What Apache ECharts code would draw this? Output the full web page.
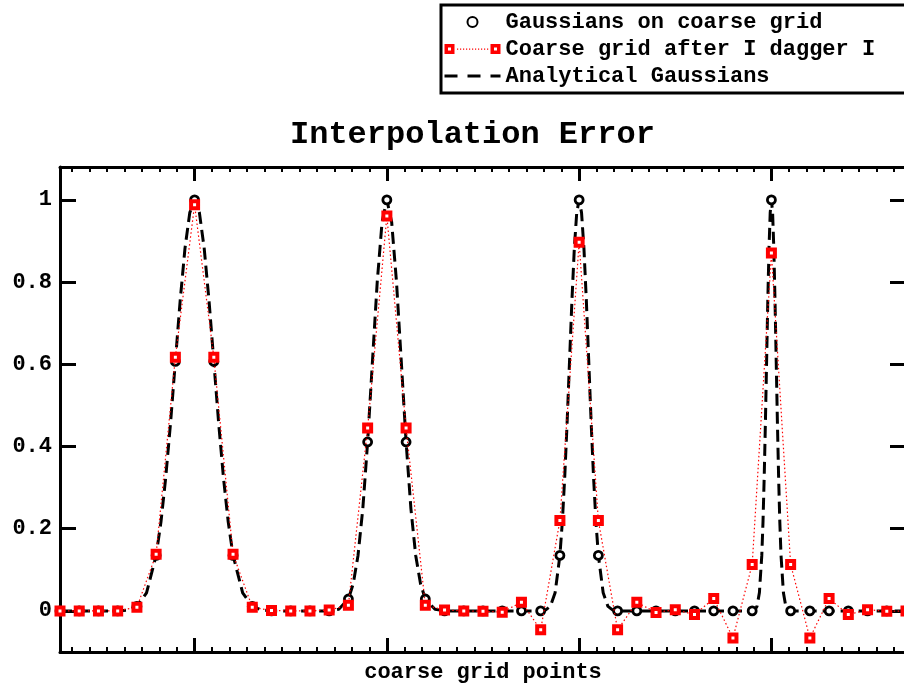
<!DOCTYPE html>
<html>
<head>
<meta charset="utf-8">
<script src="https://cdn.jsdelivr.net/npm/echarts@6/dist/echarts.min.js"></script>
<style>
html,body{margin:0;padding:0;background:#fff;}
#chart{width:904px;height:684px;}
</style>
</head>
<body>
<div id="chart"></div>
<script>
// coarse grid values (index 0..44)
const gaussCoarse = [0,0,0,0,0.011,0.135,0.607,1,0.607,0.135,0.011,0,0,0,
  0,0.029,0.411,1,0.411,0.029,0,0,0,0,0,0,
  0.135,1,0.135,0,0,0,0,0,0,0,0,1,0,0,0,0,0,0,0];
const afterIdaggerI = [0,0,0,0,0.009,0.138,0.617,0.988,0.617,0.138,0.009,0.001,0,0,
  0.002,0.014,0.445,0.961,0.445,0.014,0.002,0,-0.001,-0.003,0.021,-0.046,
  0.22,0.897,0.22,-0.046,0.021,-0.004,0.003,-0.009,0.03,-0.066,0.113,0.871,0.113,-0.066,0.03,-0.009,0.003,-0.001,0];
// analytical curve samples [x, y]
const analyticCurve = [[0,0],[3,0],[3.5,0.002],[4,0.011],[4.5,0.044],[5,0.135],[5.25,0.216],[5.5,0.325],[5.75,0.458],[6,0.607],[6.25,0.755],[6.5,0.882],[6.75,0.969],[7,1],[7.25,0.969],[7.5,0.882],[7.75,0.755],[8,0.607],[8.25,0.458],[8.5,0.325],[8.75,0.216],[9,0.135],[9.5,0.044],[10,0.011],[10.5,0.002],[11,0],
  [14,0],[14.5,0.004],[15,0.029],[15.25,0.066],[15.5,0.135],[15.75,0.249],[16,0.411],[16.25,0.607],[16.5,0.801],[16.75,0.946],[17,1],[17.25,0.946],[17.5,0.801],[17.75,0.607],[18,0.411],[18.25,0.249],[18.5,0.135],[18.75,0.066],[19,0.029],[19.5,0.004],[20,0],
  [25,0],[25.25,0.002],[25.5,0.011],[25.75,0.044],[26,0.135],[26.125,0.216],[26.25,0.325],[26.375,0.458],[26.5,0.607],[26.625,0.755],[26.75,0.882],[26.875,0.969],[27,1],[27.125,0.969],[27.25,0.882],[27.375,0.755],[27.5,0.607],[27.625,0.458],[27.75,0.325],[27.875,0.216],[28,0.135],[28.25,0.044],[28.5,0.011],[28.75,0.002],[29,0],
  [36,0],[36.125,0.002],[36.25,0.011],[36.375,0.044],[36.5,0.135],[36.5625,0.216],[36.625,0.325],[36.6875,0.458],[36.75,0.607],[36.8125,0.755],[36.875,0.882],[36.9375,0.969],[37,1],[37.0625,0.969],[37.125,0.882],[37.1875,0.755],[37.25,0.607],[37.3125,0.458],[37.375,0.325],[37.4375,0.216],[37.5,0.135],[37.625,0.044],[37.75,0.011],[37.875,0.002],[38,0],[44,0]];
const seriesNames = ['Gaussians on coarse grid','Coarse grid after I dagger I','Analytical Gaussians'];
const titleText = 'Interpolation Error';
const xAxisName = 'coarse grid points';

const FONT = '"Liberation Mono", "Courier New", monospace';
const chart = echarts.init(document.getElementById('chart'), null, {renderer:'canvas'});

// legend icon: two hollow squares joined by dots (56 x 10 box)
let redIcon = 'path://M0,0H10V10H0Z M3.5,3.5V6.5H6.5V3.5Z M46,0H56V10H46Z M49.5,3.5V6.5H52.5V3.5Z';
for (let x = 12.5; x < 44; x += 3) {
  redIcon += ' M' + x + ',4.5H' + (x + 1.2) + 'V5.7H' + x + 'Z';
}

const axisBase = {
  axisLine:{show:true, onZero:false, lineStyle:{color:'#000', width:3}},
  splitLine:{show:false}
};
const option = {
  animation:false,
  backgroundColor:'#fff',
  title:{text:titleText, left:290, top:119, padding:0,
    textStyle:{fontFamily:FONT, fontWeight:'bold', fontSize:32, color:'#000'}},
  legend:{
    orient:'vertical', left:441, top:5, padding:[6,40,6,2],
    borderColor:'#000', borderWidth:3, backgroundColor:'#fff',
    itemWidth:56, itemHeight:10, itemGap:5,
    textStyle:{fontFamily:FONT, fontWeight:'bold', fontSize:22, color:'#000', lineHeight:22},
    data:[
      {name:seriesNames[0]},
      {name:seriesNames[1], icon:redIcon, itemStyle:{color:'#ff0000', borderWidth:0}},
      {name:seriesNames[2], itemStyle:{opacity:0}, lineStyle:{type:[13,10], width:3, color:'#000'}}
    ]
  },
  grid:{left:60, top:167, width:846, height:485, outerBoundsMode:'none', containLabel:false},
  xAxis:[
    {type:'value', min:0, max:44, show:false, position:'bottom'},
    Object.assign({}, axisBase, {type:'value', position:'bottom', min:3, max:47, splitNumber:4, minInterval:10, maxInterval:10,
      axisTick:{show:true, inside:true, length:14, lineStyle:{color:'#000', width:3}},
      minorTick:{show:true, splitNumber:11, length:5, lineStyle:{color:'#000', width:2}},
      axisLabel:{show:false},
      name:xAxisName, nameLocation:'middle', nameGap:9,
      nameTextStyle:{fontFamily:FONT, fontWeight:'bold', fontSize:22, color:'#000', verticalAlign:'top'}}),
    Object.assign({}, axisBase, {type:'value', position:'top', min:3, max:47, splitNumber:4, minInterval:10, maxInterval:10,
      axisTick:{show:true, inside:true, length:14, lineStyle:{color:'#000', width:3}},
      minorTick:{show:true, splitNumber:11, length:5, lineStyle:{color:'#000', width:2}},
      axisLabel:{show:false}})
  ],
  yAxis:[
    Object.assign({}, axisBase, {type:'value', position:'left', min:-0.1, max:1.08, splitNumber:6, minInterval:0.2, maxInterval:0.2,
      axisTick:{show:true, inside:true, length:16, lineStyle:{color:'#000', width:3}},
      axisLabel:{show:true, showMinLabel:false, showMaxLabel:false, margin:8,
        fontFamily:FONT, fontWeight:'bold', fontSize:22, color:'#000'}}),
    Object.assign({}, axisBase, {type:'value', position:'right', min:-0.1, max:1.08, splitNumber:6, minInterval:0.2, maxInterval:0.2,
      axisTick:{show:true, inside:true, length:16, lineStyle:{color:'#000', width:3}},
      axisLabel:{show:false}})
  ],
  series:[
    {name:seriesNames[0], type:'scatter', xAxisIndex:0, yAxisIndex:0, z:3,
      symbol:'circle', symbolSize:8,
      itemStyle:{color:'#fff', borderColor:'#000', borderWidth:2.8, opacity:1},
      data:gaussCoarse.map((v,i)=>[i,v])},
    {name:seriesNames[1], type:'line', xAxisIndex:0, yAxisIndex:0, z:4,
      symbol:'rect', symbolSize:7, showSymbol:true,
      itemStyle:{color:'#fff', borderColor:'#ff0000', borderWidth:4},
      lineStyle:{color:'#ff0000', width:1.2, type:[1.5,2.5]},
      data:afterIdaggerI.map((v,i)=>[i,v])},
    {name:seriesNames[2], type:'line', xAxisIndex:0, yAxisIndex:0, z:2,
      symbol:'none', showSymbol:false,
      itemStyle:{color:'#000'},
      lineStyle:{color:'#000', width:3, type:[12,6]},
      data:analyticCurve}
  ]
};
chart.setOption(option);
</script>
</body>
</html>
